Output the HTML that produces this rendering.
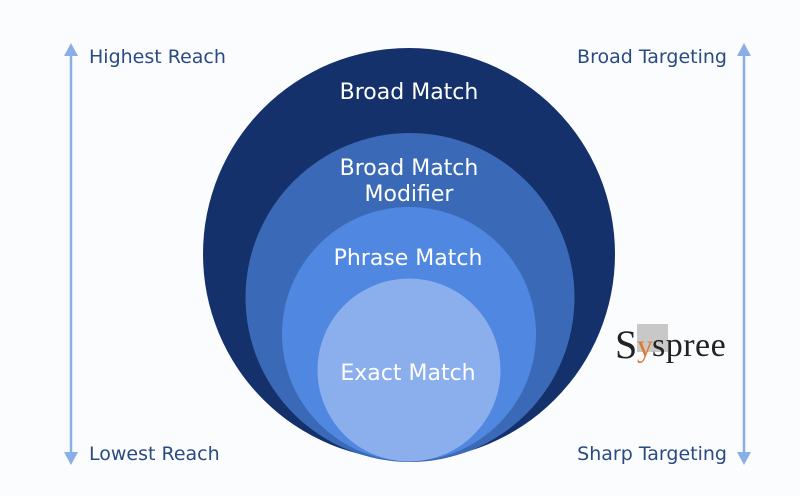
<!DOCTYPE html>
<html><head><meta charset="utf-8"><style>
html,body{margin:0;padding:0;background:#fbfcfe;}
svg{display:block}
text{font-family:"DejaVu Sans","Liberation Sans",sans-serif;}
text.serif{font-family:"Liberation Serif",serif;}
</style></head><body>
<svg width="800" height="496" viewBox="0 0 800 496" xmlns="http://www.w3.org/2000/svg">
<rect width="800" height="496" fill="#fbfcfe"/>
<circle cx="409" cy="254" r="206" fill="#14316b"/>
<circle cx="410" cy="297.5" r="164.5" fill="#3a69b7"/>
<circle cx="409" cy="334" r="127" fill="#5088e1"/>
<circle cx="409" cy="370" r="91.5" fill="#8aafec"/>
<g fill="#fff" font-size="22" text-anchor="middle">
<text x="409" y="99">Broad Match</text>
<text x="409" y="175">Broad Match</text>
<text x="409" y="201">Modifier</text>
<text x="408" y="265">Phrase Match</text>
<text x="408" y="380">Exact Match</text>
</g>
<g stroke="#8aaee6" stroke-width="2.5">
<line x1="71" y1="52" x2="71" y2="456"/>
<line x1="744" y1="52" x2="744" y2="456"/>
</g>
<g fill="#8aaee6">
<polygon points="71,43 64,56 78,56"/><polygon points="71,465 64,452 78,452"/>
<polygon points="744,43 737,56 751,56"/><polygon points="744,465 737,452 751,452"/>
</g>
<g fill="#2a4a82" font-size="19">
<text x="89" y="63">Highest Reach</text>
<text x="89" y="460">Lowest Reach</text>
<text x="727" y="63" text-anchor="end">Broad Targeting</text>
<text x="727" y="460" text-anchor="end">Sharp Targeting</text>
</g>
<rect x="637" y="324" width="31" height="28" fill="#c8c8c8"/>
<text class="serif" x="615" y="358" font-size="40" fill="#222">S</text>
<text class="serif" x="637" y="356" font-size="32" fill="#e07a30">y</text>
<text class="serif" x="652" y="356" font-size="34" fill="#222" letter-spacing="0.5">spree</text>
</svg>
</body></html>
